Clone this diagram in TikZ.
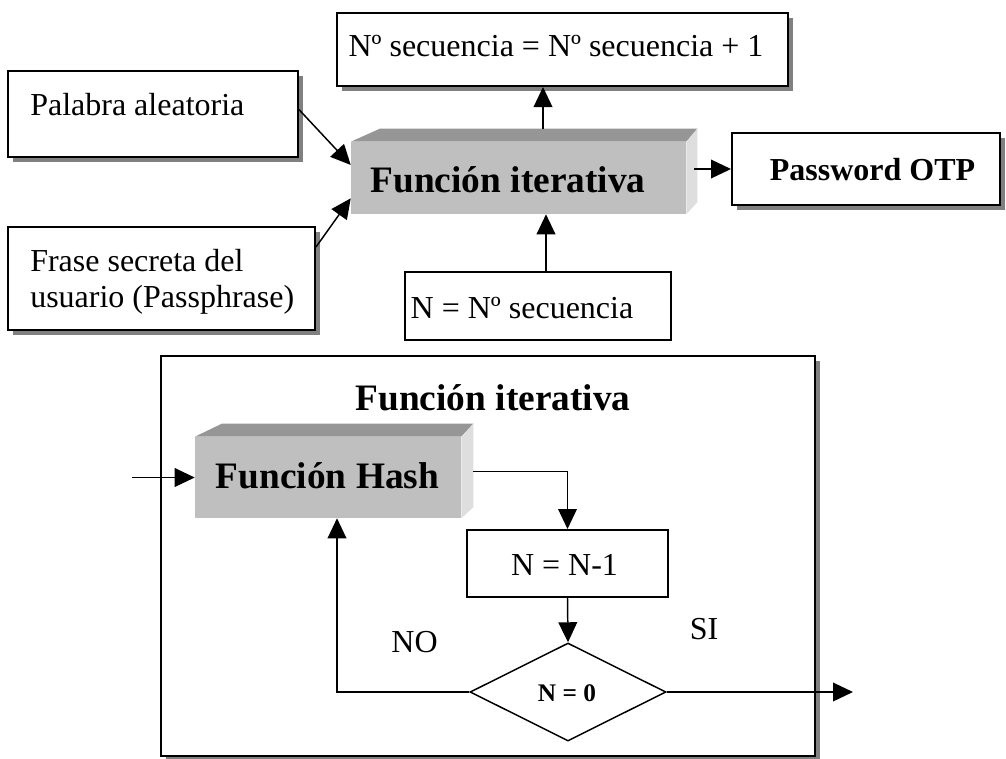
\documentclass[tikz,border=0pt]{standalone}
\usepackage{fontspec}
\setmainfont{Liberation Serif}
\usetikzlibrary{arrows.meta,shapes.geometric,calc,fit,shadows}
\tikzset{
  box/.style={draw, line width=1.5pt, fill=white, inner sep=0pt},
  shadowed/.style={drop shadow={shadow xshift=3.75pt, shadow yshift=-3.75pt, fill=black!50, opacity=1}},
  front/.style={fill=black!25, inner sep=0pt},
  topface/.style={fill=black!41},
  sideface/.style={fill=black!13},
  conn/.style={line width=1.1pt, -{Triangle[length=15pt,width=14pt]}},
  txt/.style={font=\fontsize{24}{27}\selectfont, inner sep=0pt, anchor=base},
  bold/.style={txt, font=\bfseries\fontsize{24}{27}\selectfont},
  title/.style={txt, font=\bfseries\fontsize{28}{32}\selectfont},
}
\begin{document}
\begin{tikzpicture}[x=0.75pt,y=-0.75pt]
\useasboundingbox (0,0) rectangle (1006,758);

% frame around the iterative function detail
\node[box, shadowed, fit={(161,356) (815,756)}] (frame) {};
\node[title] (frametitle) at (493,410) {Función iterativa};

% upper diagram: inputs and outputs
\node[box, shadowed, fit={(337,13) (788,86)}] (seq) {};
\node[txt] (seqtxt) at (556,56) {Nº secuencia = Nº secuencia + 1};

\node[box, shadowed, fit={(8,71) (298,157)}] (word) {};
\node[txt, anchor=base west] (wordtxt) at (30,115) {Palabra aleatoria};

\node[box, shadowed, fit={(8,227) (315,330)}] (phrase) {};
\node[txt, anchor=base west] (phrasetxta) at (30,271) {Frase secreta del};
\node[txt, anchor=base west] (phrasetxtb) at (30,307) {usuario (Passphrase)};

% 3D block: iterative function
\node[front, fit={(351,142) (686,214)}] (iter) {};
\fill[topface] (iter.north west) -- ++(29,-13) -- ($(iter.north east)+(11,-13)$) -- (iter.north east) -- cycle;
\fill[sideface] (iter.north east) -- ++(11,-13) -- ($(iter.south east)+(11,-12)$) -- (iter.south east) -- cycle;
\node[title] (itertxt) at (508,192) {Función iterativa};

\node[box, shadowed, fit={(732,133) (1000,205)}] (otp) {};
\node[bold] (otptxt) at (872.5,180) {Password OTP};

\node[box, fit={(405,272) (671,340)}] (nseq) {};
\node[txt] (nseqtxt) at (522,318) {N = Nº secuencia};

\draw[conn] ($(word.north east)!0.45!(word.south east)$) -- ($(iter.north west)!0.32!(iter.south west)$);
\draw[conn] ($(phrase.north east)!0.2!(phrase.south east)$) -- ($(iter.north west)!0.78!(iter.south west)$);
\coordinate (iterup) at ($(iter.north)+(24.5,-13)$);
\draw[conn] (iterup) -- (iterup |- seq.south);
\coordinate (nseqout) at ($(nseq.north west)+(142,0)$);
\draw[conn] (nseqout) -- (nseqout |- iter.south);
\coordinate (iterright) at ($(iter.east)+(8,0)$);
\draw[conn] (iterright |- otp.west) -- (otp.west);

% lower diagram: hash loop
\node[front, fit={(195,437) (461,518)}] (hash) {};
\fill[topface] (hash.north west) -- ++(27,-13) -- ($(hash.north east)+(12,-13)$) -- (hash.north east) -- cycle;
\fill[sideface] (hash.north east) -- ++(12,-13) -- ($(hash.south east)+(12,-11)$) -- (hash.south east) -- cycle;
\node[title] (hashtxt) at (327.5,488) {Función Hash};

\node[box, fit={(467,530) (668,597)}] (dec) {};
\node[txt] (dectxt) at (564.5,575) {N = N-1};

\node[diamond, draw, line width=1.1pt, fill=white, aspect=2, inner sep=0pt,
      minimum width=147pt, minimum height=73.5pt] (test) at (568,692) {};
\node[txt, font=\bfseries\fontsize{19}{22}\selectfont] (testtxt) at (567,701.7) {N = 0};

\coordinate (in) at (132,477.5);
\draw[conn] (in) -- (hash.west);
\draw[conn] ($(hash.east)+(12,-6)$) -| (dec.north);
\draw[conn] (dec.south) -- (test.north);
\coordinate (exit) at (853,692);
\draw[conn] (test.east) -- (exit);
\coordinate (back) at ($(hash.south)+(9,0)$);
\draw[conn] (test.west) -| (back);

\node[txt] (no) at (414.5,652) {NO};
\node[txt] (si) at (704,639) {SI};
\end{tikzpicture}
\end{document}
